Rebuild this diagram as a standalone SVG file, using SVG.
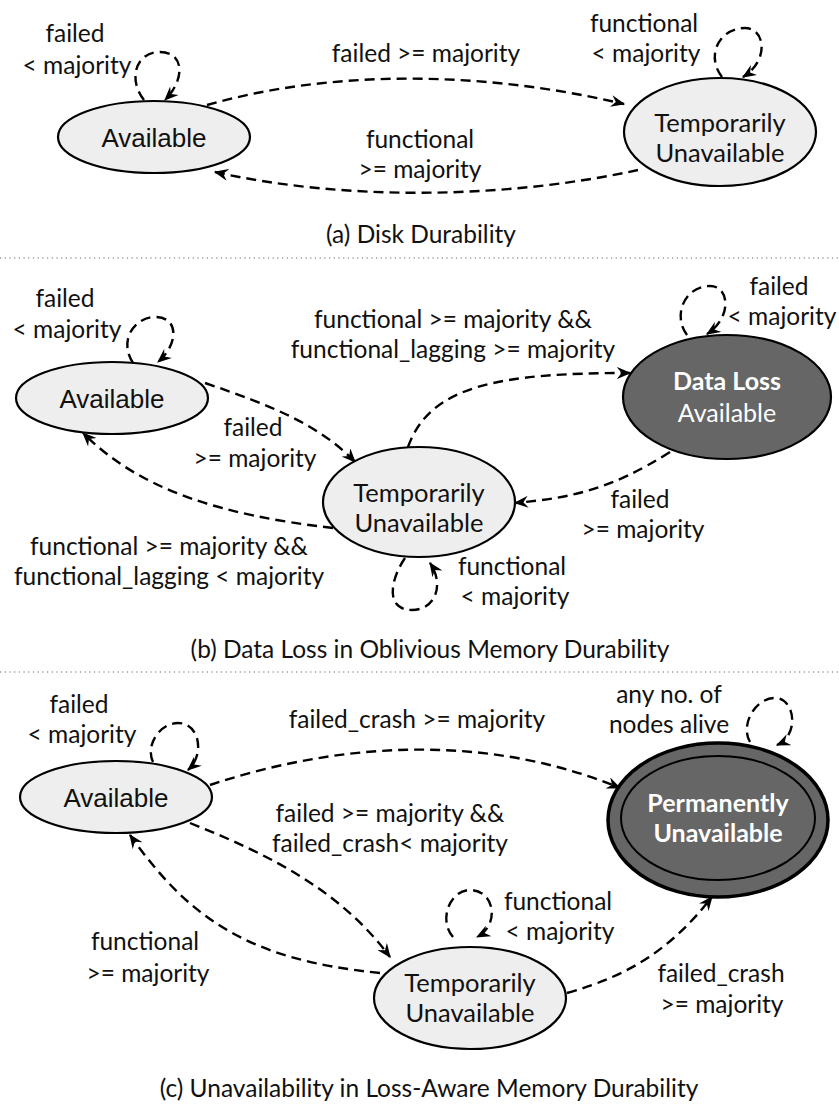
<svg xmlns="http://www.w3.org/2000/svg" width="839" height="1106" viewBox="0 0 839 1106">
<style>
.lbl{font-family:Lato,"Noto Sans",sans-serif;font-size:24.5px;fill:#111;text-anchor:middle}
.cap{font-family:Lato,"Noto Sans",sans-serif;font-size:24.5px;fill:#111;text-anchor:middle}
.nd{font-family:Lato,"Noto Sans",sans-serif;font-size:25.5px;fill:#111;text-anchor:middle}
.arial{font-family:"Liberation Sans",Arial,sans-serif;font-size:26px;fill:#111;text-anchor:middle}
.light{fill:#eeeeee;stroke:#000;stroke-width:2.2}
.dark{fill:#666666;stroke:#000;stroke-width:2.2}
.wt{font-family:Lato,"Noto Sans",sans-serif;font-size:25px;fill:#fff;text-anchor:middle}
.edge{fill:none;stroke:#000;stroke-width:2.4;stroke-dasharray:10,6;marker-end:url(#arr)}
.sep{stroke:#666;stroke-width:1.2;stroke-dasharray:1.2,3.5}
</style>
<defs>
<marker id="arr" viewBox="0 0 12 10" refX="11" refY="5" markerWidth="15" markerHeight="12" markerUnits="userSpaceOnUse" orient="auto">
<path d="M0,0 L12,5 L0,10 L4,5 z" fill="#000"/>
</marker>
</defs>
<rect width="839" height="1106" fill="#fff"/>
<line class="sep" x1="0" y1="258" x2="839" y2="258"/>
<line class="sep" x1="0" y1="672" x2="839" y2="672"/>

<g id="connectors">
<path class="edge" d="M144,100 C128,80 135,52 160,52 C185,52 185,80 165,100"/>
<path class="edge" d="M207,105 C330,70 480,70 624,104"/>
<path class="edge" d="M638,170 C500,200 340,200 215,172"/>
<path class="edge" d="M722,77 C705,55 720,28 745,28 C765,28 770,60 743,77"/>

<path class="edge" d="M133,363 C118,340 135,317 155,317 C180,317 178,345 158,362"/>
<path class="edge" d="M205,383 C270,405 320,425 355,462"/>
<path class="edge" d="M333,528 C220,515 140,490 83,433"/>
<path class="edge" d="M405,558 C390,580 385,610 412,610 C435,610 445,585 430,563"/>
<path class="edge" d="M408,447 C430,385 500,373 630,373"/>
<path class="edge" d="M687,335 C672,315 685,286 710,286 C730,286 732,318 707,334"/>
<path class="edge" d="M670,452 C610,490 570,498 515,503"/>

<path class="edge" d="M153,762 C145,745 160,723 178,723 C200,723 205,755 188,770"/>
<path class="edge" d="M210,785 C330,745 480,730 620,788"/>
<path class="edge" d="M190,823 C270,855 340,890 390,957"/>
<path class="edge" d="M380,973 C250,960 190,920 130,835"/>
<path class="edge" d="M453,937 C438,920 450,890 470,890 C495,890 500,925 477,937"/>
<path class="edge" d="M567,993 C630,975 670,950 712,897"/>
<path class="edge" d="M750,742 C740,725 755,698 775,698 C795,698 800,735 777,745"/>
</g>

<g id="labels">
<text class="lbl" x="75" y="42">failed</text>
<text class="lbl" x="77" y="74">&lt; majority</text>
<text class="lbl" x="426" y="62">failed &gt;= majority</text>
<text class="lbl" x="420" y="148">functional</text>
<text class="lbl" x="420" y="178">&gt;= majority</text>
<text class="lbl" x="644" y="32">functional</text>
<text class="lbl" x="646" y="62">&lt; majority</text>
<text class="cap" x="421" y="243">(a) Disk Durability</text>

<text class="lbl" x="65" y="307">failed</text>
<text class="lbl" x="67" y="338">&lt; majority</text>
<text class="lbl" x="453" y="328">functional &gt;=  majority &amp;&amp;</text>
<text class="lbl" x="453" y="358">functional_lagging &gt;= majority</text>
<text class="lbl" x="779" y="295">failed</text>
<text class="lbl" x="782" y="325">&lt; majority</text>
<text class="lbl" x="253" y="436">failed</text>
<text class="lbl" x="255" y="467">&gt;= majority</text>
<text class="lbl" x="169" y="555">functional &gt;=  majority &amp;&amp;</text>
<text class="lbl" x="169" y="585">functional_lagging &lt; majority</text>
<text class="lbl" x="640" y="508">failed</text>
<text class="lbl" x="643" y="538">&gt;= majority</text>
<text class="lbl" x="512" y="575">functional</text>
<text class="lbl" x="515" y="605">&lt; majority</text>
<text class="cap" x="430" y="658">(b) Data Loss in Oblivious Memory Durability</text>

<text class="lbl" x="79" y="713">failed</text>
<text class="lbl" x="82" y="743">&lt; majority</text>
<text class="lbl" x="417" y="728">failed_crash &gt;=  majority</text>
<text class="lbl" x="669" y="703">any no. of</text>
<text class="lbl" x="669" y="733">nodes alive</text>
<text class="lbl" x="390" y="822">failed &gt;=  majority &amp;&amp;</text>
<text class="lbl" x="390" y="852">failed_crash&lt; majority</text>
<text class="lbl" x="145" y="950">functional</text>
<text class="lbl" x="148" y="982">&gt;=  majority</text>
<text class="lbl" x="558" y="910">functional</text>
<text class="lbl" x="560" y="940">&lt; majority</text>
<text class="lbl" x="721" y="982">failed_crash</text>
<text class="lbl" x="722" y="1013">&gt;=  majority</text>
<text class="cap" x="429" y="1097">(c) Unavailability in Loss-Aware Memory Durability</text>
</g>

<g id="a-available">
<ellipse class="light" cx="154" cy="137" rx="96" ry="36"/>
<text class="arial" x="154" y="147">Available</text>
</g>
<g id="a-temp">
<ellipse class="light" cx="720" cy="132" rx="96" ry="54"/>
<text class="nd" x="720" y="132">Temporarily</text>
<text class="nd" x="720" y="162">Unavailable</text>
</g>

<g id="b-available">
<ellipse class="light" cx="112" cy="398" rx="96" ry="36"/>
<text class="arial" x="112" y="408">Available</text>
</g>
<g id="b-temp">
<ellipse class="light" cx="419" cy="502" rx="96" ry="55"/>
<text class="nd" x="419" y="502">Temporarily</text>
<text class="nd" x="419" y="532">Unavailable</text>
</g>
<g id="b-dataloss">
<ellipse class="dark" cx="727" cy="397" rx="104" ry="62"/>
<text class="wt" x="727" y="390" font-weight="bold">Data Loss</text>
<text class="wt" x="727" y="422">Available</text>
</g>

<g id="c-available">
<ellipse class="light" cx="116" cy="797" rx="96" ry="36"/>
<text class="arial" x="116" y="807">Available</text>
</g>
<g id="c-temp">
<ellipse class="light" cx="470" cy="998" rx="96" ry="51"/>
<text class="nd" x="470" y="992">Temporarily</text>
<text class="nd" x="470" y="1022">Unavailable</text>
</g>
<g id="c-perm">
<ellipse fill="#666666" stroke="#000" stroke-width="3.5" cx="718" cy="820" rx="110" ry="77"/>
<ellipse fill="none" stroke="#000" stroke-width="2" cx="718" cy="818" rx="97" ry="62"/>
<text class="wt" x="718" y="812" font-weight="bold">Permanently</text>
<text class="wt" x="718" y="842" font-weight="bold">Unavailable</text>
</g>
</svg>
